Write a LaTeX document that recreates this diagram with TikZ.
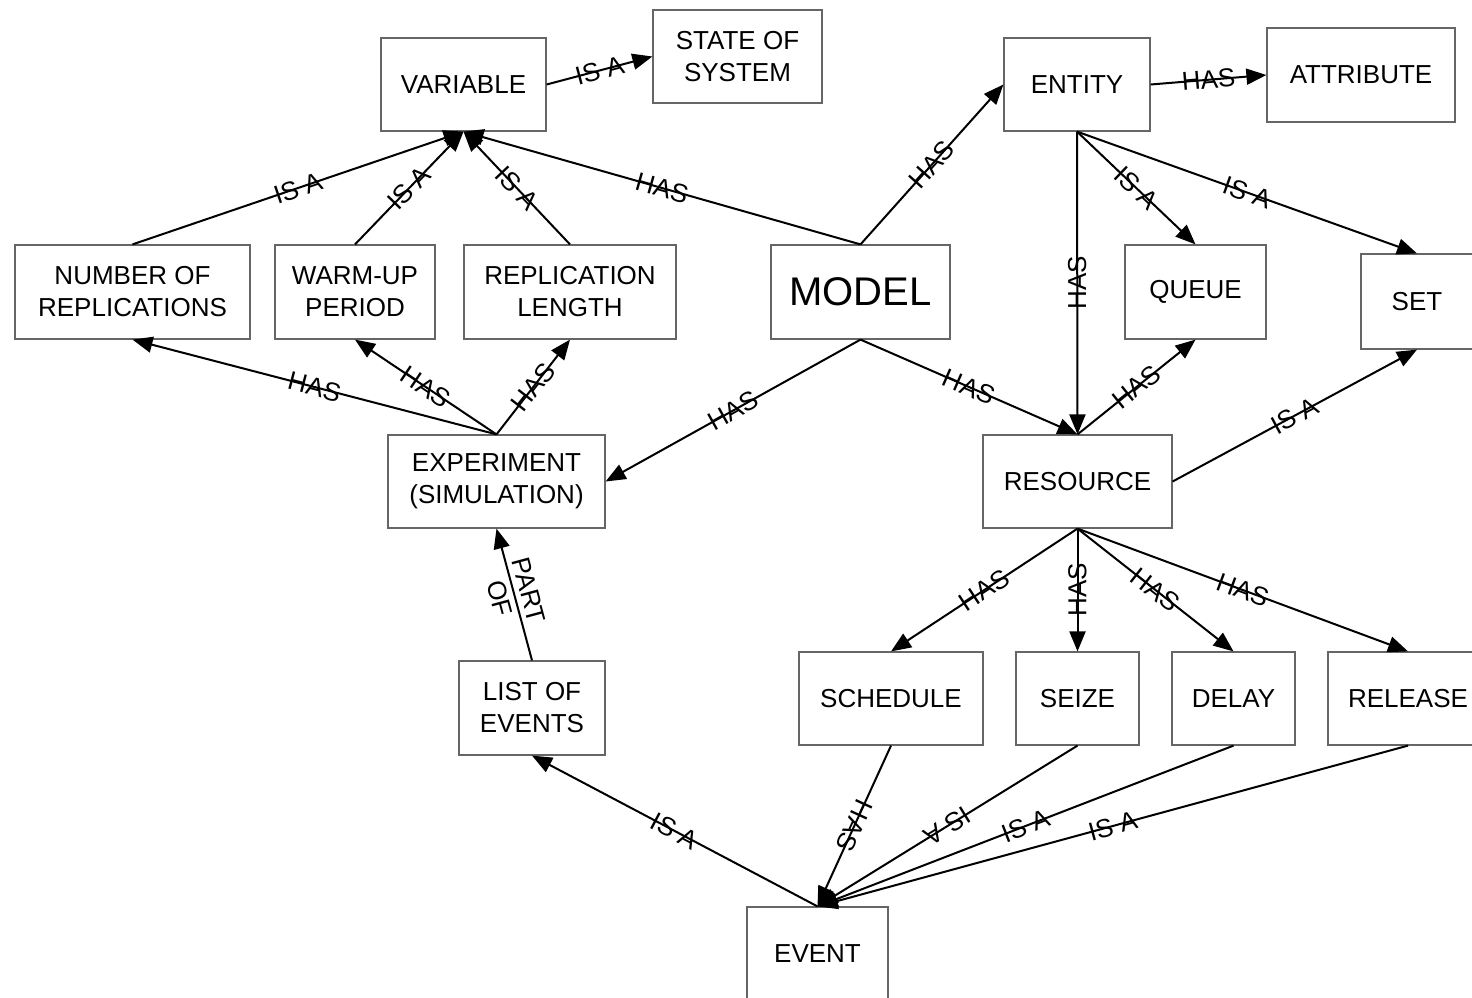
\documentclass[tikz,border=0pt]{standalone}
\usepackage{fontspec}
\setmainfont{Liberation Sans}
\usetikzlibrary{arrows.meta}
\begin{document}
\begin{tikzpicture}[x=0.5pt,y=-0.5pt,
  box/.style={draw=black!60, line width=0.6pt, fill=white, inner sep=0pt, align=center,
    minimum height=46.5pt, font=\fontsize{13}{16}\selectfont},
  conn/.style={line width=1pt, -{Triangle[length=10pt,width=8pt]}},
  lbl/.style={midway, sloped, inner sep=0pt, align=center, font=\fontsize{13}{15}\selectfont},
  vlbl/.style={midway, rotate=90, inner sep=0pt, font=\fontsize{13}{15}\selectfont}]
\useasboundingbox (0,0) rectangle (1472,997);
\clip (0,0) rectangle (1472,997);

% boxes
\node[box, minimum width=82.5pt] (var) at (463.5,84.5) {VARIABLE};
\node[box, minimum width=84.5pt] (state) at (737.5,56.5) {STATE OF\\SYSTEM};
\node[box, minimum width=73pt] (entity) at (1077,84.5) {ENTITY};
\node[box, minimum width=94pt, minimum height=47pt] (attr) at (1361,75) {ATTRIBUTE};
\node[box, minimum width=117.5pt, minimum height=47pt] (num) at (132.5,292) {NUMBER OF\\REPLICATIONS};
\node[box, minimum width=80pt, minimum height=47pt] (warm) at (355,292) {WARM-UP\\PERIOD};
\node[box, minimum width=106pt, minimum height=47pt] (repl) at (570,292) {REPLICATION\\LENGTH};
\node[box, minimum width=89.5pt, minimum height=47pt, font=\fontsize{20}{24}\selectfont] (model) at (860.5,292) {MODEL};
\node[box, minimum width=70.5pt, minimum height=47pt] (queue) at (1195.5,292) {QUEUE};
\node[box, minimum width=56pt, minimum height=47.5pt] (set) at (1417,301.5) {SET};
\node[box, minimum width=108.5pt] (exp) at (496.5,481.5) {EXPERIMENT\\(SIMULATION)};
\node[box, minimum width=94.5pt] (res) at (1077.5,481.5) {RESOURCE};
\node[box, minimum width=73pt, minimum height=47pt] (list) at (532,708) {LIST OF\\EVENTS};
\node[box, minimum width=92pt] (sched) at (891,698.5) {SCHEDULE};
\node[box, minimum width=61.5pt] (seize) at (1077.5,698.5) {SEIZE};
\node[box, minimum width=61.5pt] (delay) at (1233.5,698.5) {DELAY};
\node[box, minimum width=80pt] (release) at (1408,698.5) {RELEASE};
\node[box, minimum width=70.5pt] (event) at (817.5,953.5) {EVENT};

% connectors
\draw[conn] (var.east) -- node[lbl] {IS A} (state.west);
\draw[conn] (entity.east) -- node[lbl] {HAS} (attr.west);
\draw[conn] (model.north) -- node[lbl] {HAS} (var.south);
\draw[conn] (model.north) -- node[lbl] {HAS} (entity.west);
\draw[conn] (num.north) -- node[lbl] {IS A} (var.south);
\draw[conn] (warm.north) -- node[lbl] {IS A} (var.south);
\draw[conn] (repl.north) -- node[lbl] {IS A} (var.south);
\draw[conn] (entity.south) -- node[lbl] {IS A} (queue.north);
\draw[conn] (entity.south) -- node[lbl] {IS A} (set.north);
\draw[conn] (entity.south) -- node[vlbl] {HAS} (res.north);
\draw[conn] (res.north) -- node[lbl] {HAS} (queue.south);
\draw[conn] (res.east) -- node[lbl] {IS A} (set.south);
\draw[conn] (model.south) -- node[lbl] {HAS} (res.north);
\draw[conn] (model.south) -- node[lbl] {HAS} (exp.east);
\draw[conn] (exp.north) -- node[lbl] {HAS} (num.south);
\draw[conn] (exp.north) -- node[lbl] {HAS} (warm.south);
\draw[conn] (exp.north) -- node[lbl] {HAS} (repl.south);
\draw[conn] (list.north) -- node[lbl] {PART\\OF} (exp.south);
\draw[conn] (res.south) -- node[lbl] {HAS} (sched.north);
\draw[conn] (res.south) -- node[vlbl] {HAS} (seize.north);
\draw[conn] (res.south) -- node[lbl] {HAS} (delay.north);
\draw[conn] (res.south) -- node[lbl] {HAS} (release.north);
\draw[conn] (event.north) -- node[lbl] {IS A} (list.south);
\draw[conn] (sched.south) -- node[lbl, allow upside down] {HAS} (event.north);
\draw[conn] (seize.south) -- node[lbl, allow upside down] {IS A} (event.north);
\draw[conn] (delay.south) -- node[lbl] {IS A} (event.north);
\draw[conn] (release.south) -- node[lbl] {IS A} (event.north);
\end{tikzpicture}
\end{document}
